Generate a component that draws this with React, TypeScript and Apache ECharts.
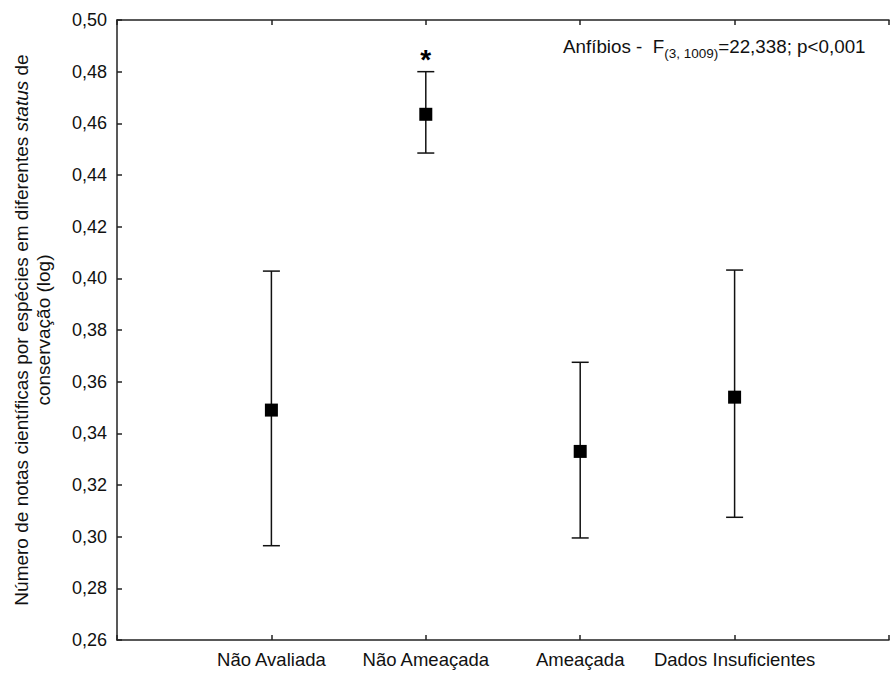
import React, { useEffect, useRef } from "react";
import * as echarts from "echarts";

const categories = ["Não Avaliada", "Não Ameaçada", "Ameaçada", "Dados Insuficientes"];
const means = [0.349, 0.4635, 0.333, 0.354];
const upper = [0.4028, 0.48, 0.3675, 0.4032];
const lower = [0.2965, 0.4485, 0.2995, 0.3075];
const significance = ["", "*", "", ""];
const yTicks = { min: 0.26, max: 0.5, interval: 0.02 };

const FONT = "'Liberation Sans', Arial, sans-serif";

export default function App() {
  const ref = useRef<HTMLDivElement>(null);
  useEffect(() => {
    if (!ref.current) return;
    const chart = echarts.init(ref.current, null, { renderer: "svg" });
    const errData = categories.map((_, i) => [i + 1, lower[i], upper[i], i]);
    const meanData = categories.map((_, i) => [i + 1, means[i]]);
    const axisLine = { show: true, lineStyle: { color: "#222", width: 1.5 } };
    const axisTick = { show: true, inside: true, length: 5, lineStyle: { color: "#222", width: 1.5 } };
    chart.setOption({
      animation: false,
      backgroundColor: "#fff",
      textStyle: { fontFamily: FONT },
      grid: { left: 117, right: -8, top: 20, bottom: 33 },
      xAxis: [
        {
          type: "value",
          min: 0,
          max: 5,
          interval: 1,
          position: "bottom",
          axisLine,
          axisTick,
          splitLine: { show: false },
          axisLabel: {
            color: "#111",
            fontSize: 18.5,
            fontFamily: FONT,
            margin: 10,
            formatter: (v: number) => categories[v - 1] ?? "",
          },
        },
        {
          type: "value",
          min: 0,
          max: 5,
          interval: 1,
          position: "top",
          axisLine,
          axisTick,
          splitLine: { show: false },
          axisLabel: { show: false },
        },
      ],
      yAxis: {
        type: "value",
        min: yTicks.min,
        max: yTicks.max,
        interval: yTicks.interval,
        axisLine,
        axisTick,
        splitLine: { show: false },
        axisLabel: {
          color: "#111",
          fontSize: 18,
          fontFamily: FONT,
          margin: 10,
          formatter: (v: number) => v.toFixed(2).replace(".", ","),
        },
        name: "{n|Número de notas científicas por espécies em diferentes }{i|status}{n| de}\n{n|conservação (log)}",
        nameLocation: "middle",
        nameGap: 63,
        nameTextStyle: {
          color: "#111",
          fontFamily: FONT,
          fontSize: 19,
          lineHeight: 22,
          rich: {
            n: { fontSize: 19, fontFamily: FONT, color: "#111", lineHeight: 22 },
            i: { fontSize: 19, fontFamily: FONT, color: "#111", fontStyle: "italic", lineHeight: 22 },
          },
        },
      },
      series: [
        {
          type: "custom",
          xAxisIndex: 0,
          data: errData,
          encode: { x: 0, y: [1, 2] },
          renderItem: (params: any, api: any) => {
            const x = api.value(0);
            const lo = api.coord([x, api.value(1)]);
            const hi = api.coord([x, api.value(2)]);
            const idx = api.value(3);
            const half = 8.5;
            const style = { stroke: "#111", lineWidth: 1.5 };
            const children: any[] = [
              { type: "line", shape: { x1: lo[0], y1: lo[1], x2: hi[0], y2: hi[1] }, style },
              { type: "line", shape: { x1: lo[0] - half, y1: lo[1], x2: lo[0] + half, y2: lo[1] }, style },
              { type: "line", shape: { x1: hi[0] - half, y1: hi[1], x2: hi[0] + half, y2: hi[1] }, style },
            ];
            const mark = significance[idx];
            if (mark) {
              children.push({
                type: "text",
                x: hi[0],
                y: hi[1] + 2,
                style: {
                  text: mark,
                  fill: "#000",
                  font: `bold 28px ${FONT}`,
                  align: "center",
                  verticalAlign: "bottom",
                },
              });
            }
            return { type: "group", children };
          },
          z: 2,
        },
        {
          type: "scatter",
          xAxisIndex: 0,
          data: meanData,
          symbol: "rect",
          symbolSize: 13,
          itemStyle: { color: "#000", opacity: 1 },
          z: 3,
        },
      ],
      graphic: [
        {
          type: "text",
          left: 563,
          top: 37,
          style: {
            text: "{n|Anfíbios -  F}{s|(3, 1009)}{n|=22,338; p<0,001}",
            rich: {
              n: { fontSize: 18.8, fontFamily: FONT, fill: "#111", verticalAlign: "bottom", padding: [0, 0, 4, 0] },
              s: { fontSize: 13.5, fontFamily: FONT, fill: "#111", verticalAlign: "bottom" },
            },
          },
        },
      ],
    });
    return () => chart.dispose();
  }, []);
  return (
    <div
      ref={ref}
      style={{ position: "absolute", left: 0, top: 0, width: 892, height: 673, background: "#fff" }}
    />
  );
}
